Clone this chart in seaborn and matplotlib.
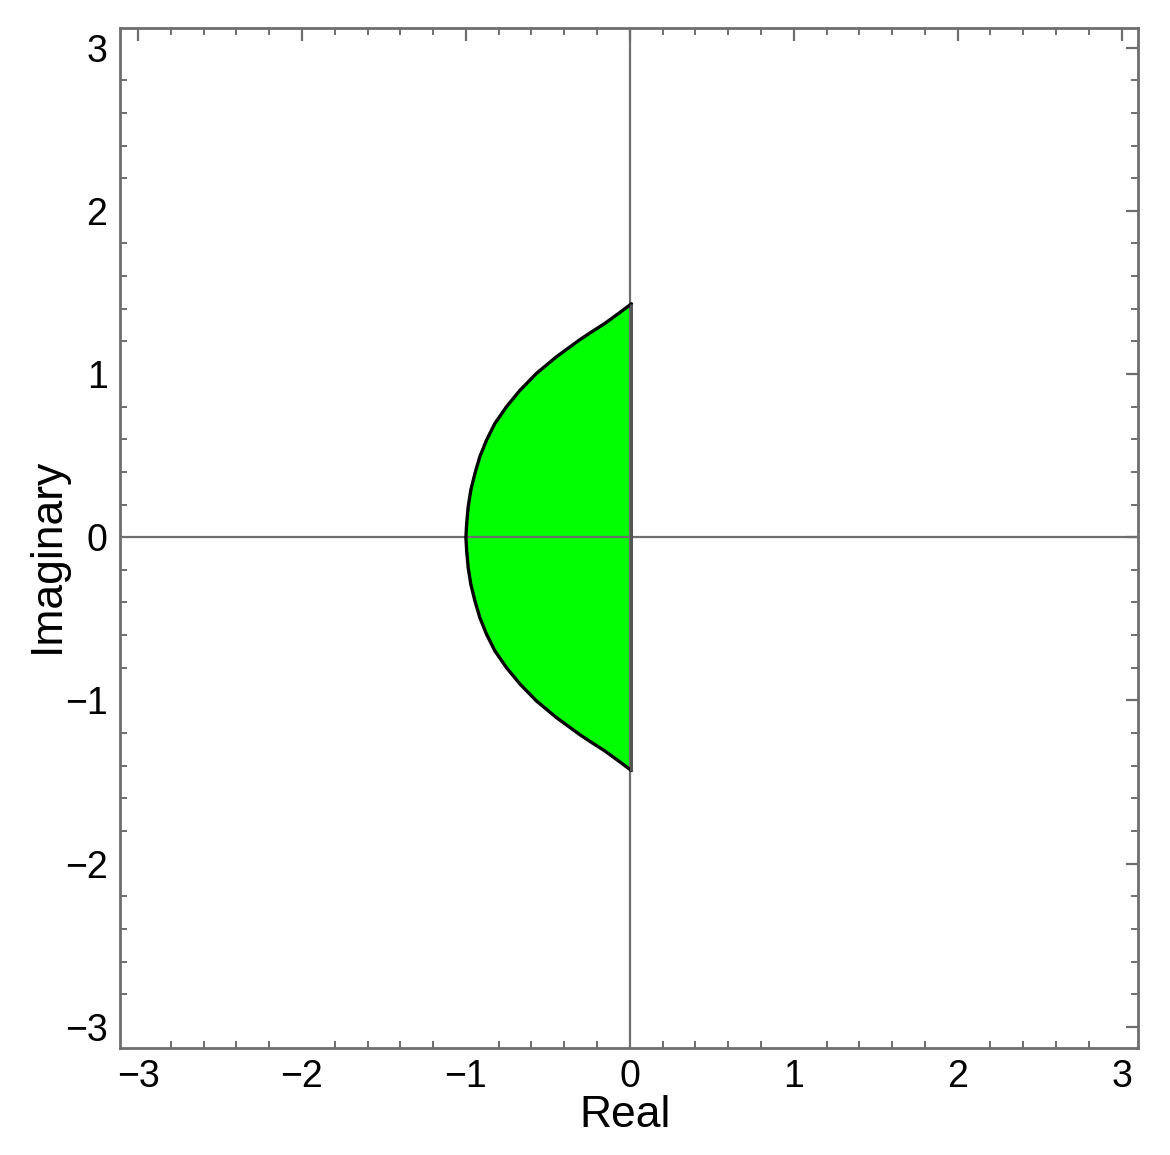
import numpy as np
import pandas as pd
import matplotlib
matplotlib.use("Agg")
import matplotlib.pyplot as plt
import seaborn as sns
from matplotlib.ticker import MultipleLocator

# Boundary of the region (upper half), mirrored for lower half
upper_real = [0.01, -0.07, -0.152, -0.23, -0.305, -0.447, -0.569, -0.67, -0.752, -0.823,
              -0.874, -0.915, -0.945, -0.97, -0.986, -0.995, -1.0]
upper_imag = [1.43, 1.37, 1.31, 1.26, 1.21, 1.106, 1.004, 0.90, 0.80, 0.697,
              0.595, 0.493, 0.39, 0.288, 0.186, 0.086, 0.0]

x_ticks = [-3, -2, -1, 0, 1, 2, 3]
y_ticks = [-3, -2, -1, 0, 1, 2, 3]
x_label = "Real"
y_label = "Imaginary"

bx = upper_real + [v for v in upper_real[::-1][1:]]
by = upper_imag + [-v for v in upper_imag[::-1][1:]]
df = pd.DataFrame({"re": bx, "im": by})

sns.set_theme(style="white")
plt.rcParams['font.family'] = ['Liberation Sans', 'DejaVu Sans']

fig = plt.figure(figsize=(11.7, 11.55), dpi=100)
ax = fig.add_axes([120/1170, 1 - 1048/1155, (1138-120)/1170, (1048-28)/1155])

ax.fill(df["re"], df["im"], color="#00ff00", zorder=1, linewidth=0)
sns.lineplot(data=df, x="re", y="im", sort=False, estimator=None, color="black",
             linewidth=2.4, ax=ax, zorder=3)
# right edge of region (gray)
ax.plot([upper_real[0], upper_real[0]], [upper_imag[0], -upper_imag[0]], color="#555555",
        linewidth=2.2, zorder=3, solid_capstyle="butt")

ax.axhline(0, color="#6e6e6e", linewidth=1.6, zorder=2)
ax.axvline(0, color="#6e6e6e", linewidth=1.6, zorder=2)

ax.set_xlim(-3.11, 3.10)
ax.set_ylim(-3.13, 3.12)

ax.xaxis.set_minor_locator(MultipleLocator(0.2))
ax.yaxis.set_minor_locator(MultipleLocator(0.2))
ax.set_xticks(x_ticks)
ax.set_yticks(y_ticks)
ax.set_xticklabels([str(t).replace("-", "\u2212") for t in x_ticks])
ax.set_yticklabels([str(t).replace("-", "\u2212") for t in y_ticks])

ax.tick_params(which="both", direction="in", top=True, right=True, color="#6e6e6e",
               labelsize=27, labelcolor="black")
ax.tick_params(which="major", length=9, width=1.6)
ax.tick_params(which="minor", length=5, width=1.4)
ax.tick_params(axis="x", which="major", pad=8)
ax.tick_params(axis="y", which="major", pad=9)
ax.tick_params(axis="x", which="minor", bottom=True, top=True)
ax.tick_params(axis="y", which="minor", left=True, right=True)

for s in ax.spines.values():
    s.set_color("#6e6e6e")
    s.set_linewidth(2.0)

ax.set_xlabel(x_label, fontsize=32, color="black")
ax.set_ylabel(y_label, fontsize=32, color="black")
ax.xaxis.set_label_coords((625 - 120) / 1018, (1048 - 1095) / 1020)
ax.yaxis.set_label_coords((68 - 120) / 1018, (1048 - 555) / 1020)
ax.grid(False)

fig.savefig("out.png", dpi=100)
